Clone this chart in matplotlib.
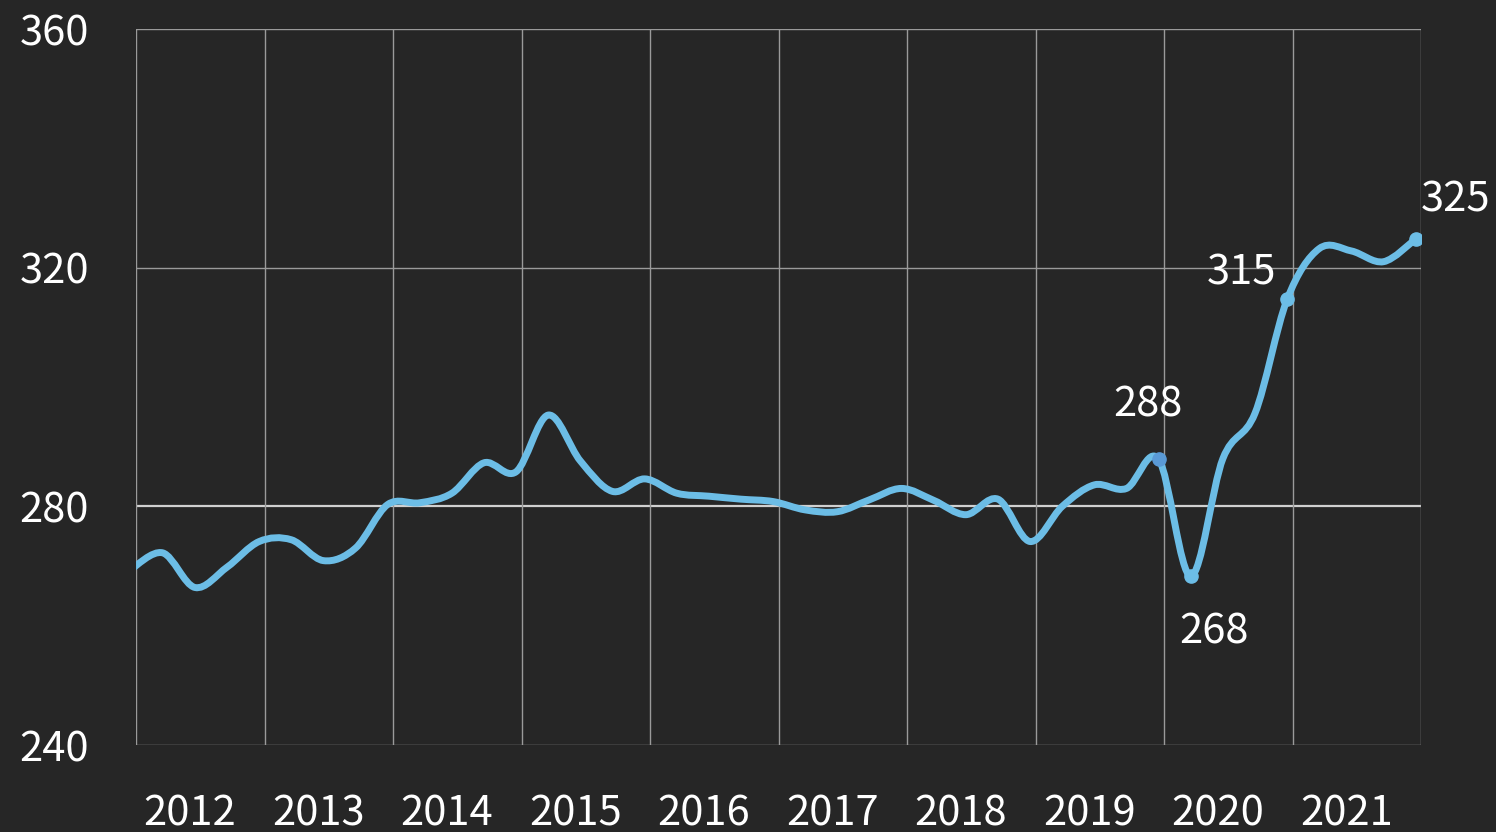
import matplotlib
matplotlib.use("Agg")
import matplotlib.pyplot as plt
import numpy as np
from matplotlib.path import Path
from matplotlib.patches import PathPatch

plt.rcParams['font.family'] = ['Noto Sans CJK JP', 'DejaVu Sans']

# quarterly values, Q4 2011 .. Q4 2021 (plotted mid last month of each quarter)
years = [2011] + [y for y in range(2012, 2022) for _ in range(4)]
quarters = [4] + [q for _ in range(2012, 2022) for q in range(1, 5)]
values = [269.4,
          272.2, 266.4, 269.8, 274.1,
          274.4, 270.9, 273.0, 280.3,
          280.6, 282.2, 287.3, 285.8,
          295.3, 287.6, 282.5, 284.6,
          282.2, 281.7, 281.2, 280.8,
          279.4, 279.1, 281.1, 283.0,
          281.0, 278.6, 281.2, 274.1,
          280.0, 283.6, 283.0, 287.9,
          268.3, 288.0, 295.6, 314.7,
          323.2, 322.8, 321.0, 324.8]
year_labels = [str(y) for y in range(2012, 2022)]
y_ticks = [240, 280, 320, 360]

# labelled points: (year, quarter, text, offset in points, marker colour)
callouts = [(2019, 4, '288', (-8, 39), '#5a9ad6'),
            (2020, 1, '268', (17, -40), '#6cbde6'),
            (2020, 4, '315', (-33, 19), '#6cbde6'),
            (2021, 4, '325', (29, 28), '#6cbde6')]

bg = '#262626'
line_c = '#6cbde6'


def qx(y, q):
    return y + (q * 3 - 0.5) / 12


x = np.array([qx(y, q) for y, q in zip(years, quarters)])
v = np.array(values)

fig = plt.figure(figsize=(14.96, 8.32), dpi=100, facecolor=bg)
ax = fig.add_axes([136 / 1496, 1 - 745 / 832, (1421 - 136) / 1496, (745 - 29) / 832])
ax.set_facecolor(bg)
ax.set_xlim(2012, 2022)
ax.set_ylim(240, 360)

# grid
for yy in y_ticks:
    if yy == 280:
        ax.axhline(yy, color='#d0d0d0', lw=1.6, zorder=1)
    else:
        ax.axhline(yy, color='#9a9a9a', lw=1.0, zorder=1)
for xx in range(2012, 2023):
    ax.axvline(xx, color='#9a9a9a', lw=1.0, zorder=1)
for s in ax.spines.values():
    s.set_visible(False)

# smooth curve (catmull-rom as cubic bezier segments)
pts = np.column_stack([x, v])
ext = np.vstack([pts[0], pts, pts[-1]])
verts = [tuple(pts[0])]
codes = [Path.MOVETO]
for i in range(len(pts) - 1):
    p0, p1, p2, p3 = ext[i], ext[i + 1], ext[i + 2], ext[i + 3]
    c1 = p1 + (p2 - p0) / 6
    c2 = p2 - (p3 - p1) / 6
    verts += [tuple(c1), tuple(c2), tuple(p2)]
    codes += [Path.CURVE4] * 3
ax.add_patch(PathPatch(Path(verts, codes), facecolor='none', edgecolor=line_c,
                       lw=5.0, capstyle='round', joinstyle='round', zorder=3))

for y, q, txt, off, mc in callouts:
    i = [k for k in range(len(years)) if years[k] == y and quarters[k] == q][0]
    ax.plot(x[i], v[i], 'o', color=mc, ms=9.5, zorder=4)
    ax.annotate(txt, (x[i], v[i]), xytext=off, textcoords='offset points',
                ha='center', va='center', color='white', fontsize=30,
                annotation_clip=False)

ax.set_yticks(y_ticks)
ax.set_yticklabels([str(t) for t in y_ticks])
ax.set_xticks(np.arange(2012, 2022) + 0.42)
ax.set_xticklabels(year_labels)
ax.tick_params(axis='both', length=0, colors='white', labelsize=30)
ax.tick_params(axis='y', pad=34)
ax.tick_params(axis='x', pad=35)

fig.savefig('out.png', dpi=100, facecolor=bg)
